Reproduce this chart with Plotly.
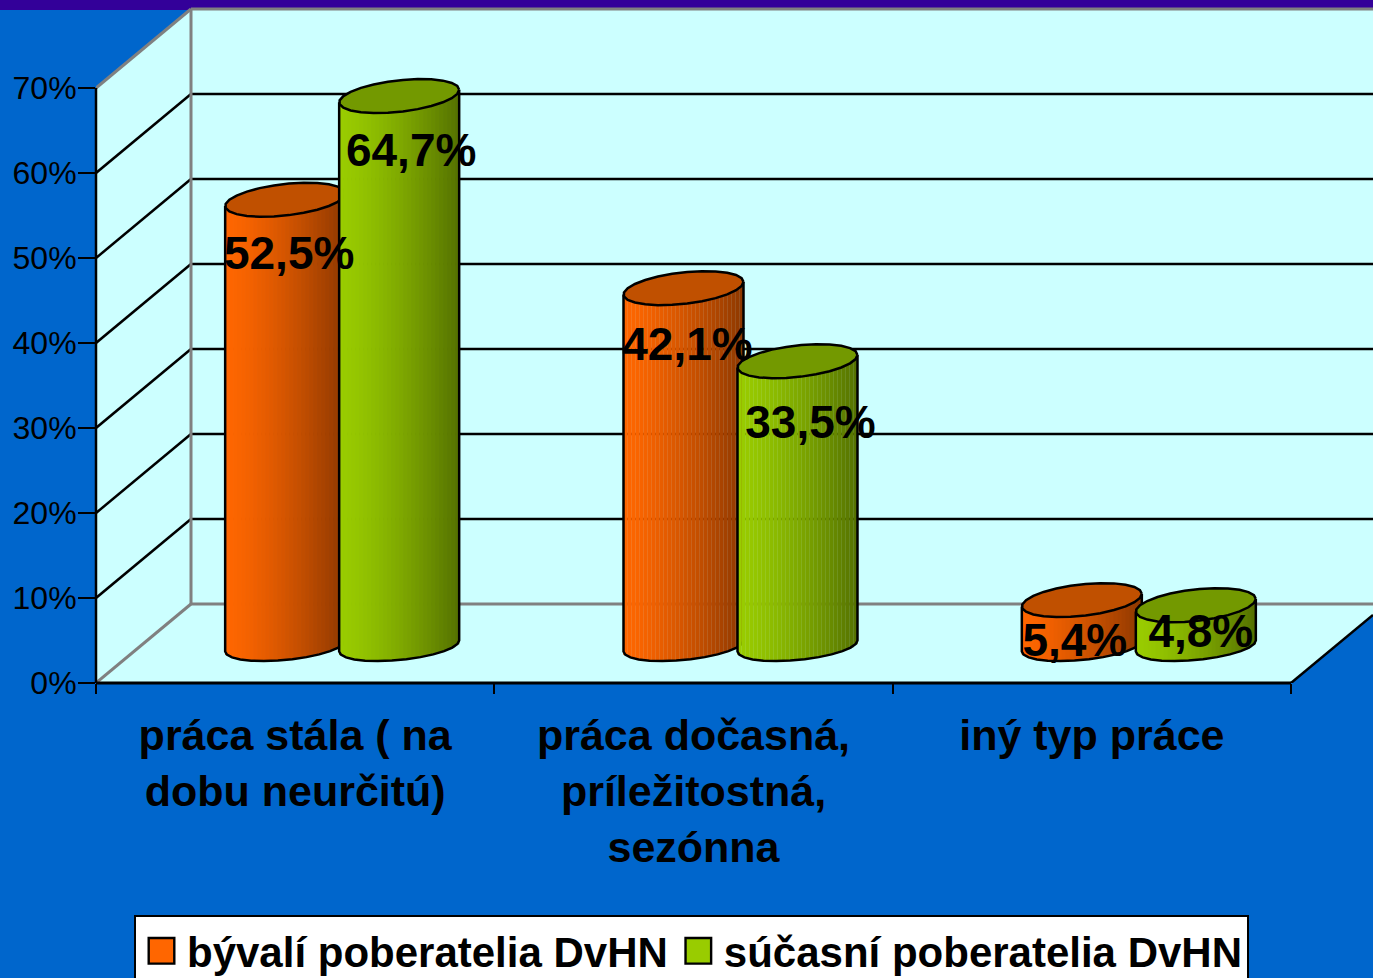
import numpy as np
import plotly.graph_objects as go

categories = ["práca stála ( na<br>dobu neurčitú)", "práca dočasná,<br>príležitostná,<br>sezónna", "iný typ práce"]
former = [52.5, 42.1, 5.4]
current = [64.7, 33.5, 4.8]
series_names = ["bývalí poberatelia DvHN", "súčasní poberatelia DvHN"]
y_ticks = [0, 10, 20, 30, 40, 50, 60, 70]

W, H = 1373, 978
L, B = 96, 683
U = 398.33      # px per category
S = 8.5         # px per percent
px = lambda p: p / U
py = lambda p: p / S
x0 = -0.5
x_right = x0 + (W - L) / U
y_top = B / S
dx, dy = px(95), py(79)
BLUE, CYAN, PURPLE, GREY = "#0066CC", "#CCFFFF", "#330099", "#808080"
BODY = "Liberation Sans"

shapes = []
def line(xa, ya, xb, yb, color="black", width=2.5):
    shapes.append(dict(type="line", x0=xa, y0=ya, x1=xb, y1=yb, layer="below", line=dict(color=color, width=width)))

wall = [(x0, 0), (x0, 70), (x0 + dx, 70 + dy), (x_right, 70 + dy), (x_right, py(68)), (2.5, 0)]
shapes.append(dict(type="path", layer="below", fillcolor=CYAN, line=dict(width=0),
                   path="M" + " L".join(f"{a},{b}" for a, b in wall) + " Z"))
shapes.append(dict(type="rect", layer="below", xref="paper", x0=-L / (W - L), x1=1, y0=py(B - 10), y1=y_top,
                   fillcolor=PURPLE, line=dict(width=0)))
for t in y_ticks[1:-1]:
    line(x0, t, x0 + dx, t + dy)
    line(x0 + dx, t + dy, x_right, t + dy)
line(x0, 0, x0 + dx, dy, GREY, 3)
line(x0 + dx, dy, x_right, dy, GREY, 3)
line(x0, 70, x0 + dx, 70 + dy, GREY, 3)
line(x0 + dx, 70 + dy, x_right, 70 + dy, GREY, 3)
line(x0 + dx, dy, x0 + dx, 70 + dy, GREY, 3)
line(2.5, 0, x_right, py(68), "black", 2.5)
# front edges sit on the plot boundary: paper refs keep them from being clipped in half
shapes.append(dict(type="line", layer="above", xref="paper", x0=0, x1=0, y0=0, y1=70, line=dict(color="black", width=2.5)))
shapes.append(dict(type="line", layer="above", xref="paper", yref="paper", x0=0, x1=(2.5 - x0) / (x_right - x0),
                   y0=0, y1=0, line=dict(color="black", width=3)))

R = px(60)           # cylinder half width
PITCH = px(114)      # distance between the two cylinders
SHIFT = px(47)       # half depth offset
BASE = py(37)        # centre of cylinder base above the floor line
EB, ET = py(15.8), py(6.3)
EB_LOW, ET_LOW = py(14), py(5.5)
N = 30

def shade(rgb, t):
    k = 1 - 0.45 * t ** 1.4
    return "rgb(%d,%d,%d)" % tuple(round(c * k) for c in rgb)

def add_series(fig, values, side, rgb, top_color, xa, ya):
    for i, v in enumerate(values):
        cx = i + SHIFT + side * PITCH / 2
        edges = np.linspace(-1, 1, N + 1)
        mid = (edges[:-1] + edges[1:]) / 2
        low = BASE - EB_LOW * np.sqrt(1 - mid ** 2) + ET_LOW * mid
        fig.add_trace(go.Bar(
            x=cx + mid * R, y=BASE + v + ET * mid - low, base=low, xaxis=xa, yaxis=ya,
            width=2 * R / N * 1.08, showlegend=False, hoverinfo="skip",
            marker=dict(color=[shade(rgb, (m + 1) / 2) for m in mid], line=dict(width=0))))
        th = np.linspace(np.pi, 2 * np.pi, 14)
        ox = cx + R * np.cos(th)
        oy = BASE + EB_LOW * np.sin(th) + ET_LOW * np.cos(th)
        fig.add_trace(go.Scatter(
            x=np.r_[cx - R, ox, cx + R], y=np.r_[BASE + v - ET, oy, BASE + v + ET], xaxis=xa, yaxis=ya,
            mode="lines", line=dict(color="black", width=2.5), showlegend=False, hoverinfo="skip"))
        th = np.linspace(0, 2 * np.pi, 26)
        fig.add_trace(go.Scatter(
            x=cx + R * np.cos(th), y=BASE + v + EB * np.sin(th) + ET * np.cos(th), xaxis=xa, yaxis=ya,
            mode="lines", fill="toself", fillcolor=top_color,
            line=dict(color="black", width=2.5), showlegend=False, hoverinfo="skip"))

fig = go.Figure()
add_series(fig, former, -1, (255, 102, 0), "#C05000", "x", "y")
add_series(fig, current, 1, (153, 204, 0), "#739900", "x2", "y2")

# value labels
label_dx = {0: [4, 12], 1: [4, 13], 2: [-7, 5]}
label_dy = {0: [58, 58], 1: [60, 65], 2: [44, 30]}
for s, vals in enumerate([former, current]):
    fig.add_trace(go.Scatter(
        x=[i + SHIFT + (2 * s - 1) * PITCH / 2 + px(label_dx[i][s]) for i in range(3)],
        y=[BASE + v - py(label_dy[i][s]) for i, v in enumerate(vals)],
        text=[f"{v:.1f}%".replace(".", ",") for v in vals], xaxis="x2", yaxis="y2",
        mode="text", textposition="middle center", showlegend=False, hoverinfo="skip",
        textfont=dict(family=BODY, size=46, color="black", weight="bold")))

# legend entries
for name, col in zip(series_names, ["#FF6600", "#99CC00"]):
    fig.add_trace(go.Scatter(x=[None], y=[None], name=name, mode="markers",
                             marker=dict(symbol="square", size=24, color=col, line=dict(color="black", width=1.5))))

fig.update_layout(
    width=W, height=H, autosize=False,
    margin=dict(l=L, r=0, t=0, b=H - B, pad=0),
    paper_bgcolor=BLUE, plot_bgcolor="rgba(0,0,0,0)",
    barmode="overlay", shapes=shapes, hovermode=False,
    font=dict(family=BODY, color="black"),
    legend=dict(orientation="h", xref="container", yref="container", x=134 / W, xanchor="left",
                y=(H - 915) / H, yanchor="top",
                bgcolor="white", bordercolor="black", borderwidth=2,
                font=dict(family=BODY, size=42, color="black", weight="bold"),
                itemwidth=41, traceorder="normal"),
    xaxis=dict(range=[x0, x_right], tickvals=[0, 1, 2], ticktext=categories, ticks="",
               showgrid=False, zeroline=False, showline=False, ticklabelstandoff=23,
               tickfont=dict(family=BODY, size=43, color="black", weight="bold"),
               minor=dict(tickvals=[-0.5, 0.5, 1.5, 2.5], ticks="outside", ticklen=10, tickcolor="black", tickwidth=2, showgrid=False)),
    yaxis=dict(range=[0, y_top], tickvals=y_ticks, ticktext=[f"{t}%" for t in y_ticks], ticks="outside",
               ticklen=17, tickwidth=2, tickcolor="black", showgrid=False, zeroline=False, showline=False,
               ticklabelstandoff=-5,
               tickfont=dict(family=BODY, size=32, color="black")),
    xaxis2=dict(range=[x0, x_right], overlaying="x", visible=False),
    yaxis2=dict(range=[0, y_top], overlaying="y", visible=False),
)

post = """
document.body.style.margin='0';document.body.style.overflow='hidden';
document.querySelectorAll('.legend .scatterpts').forEach(function(p){
  p.setAttribute('transform',(p.getAttribute('transform')||'')+' scale(1.6)');});
"""
fig.write_html("out.html", post_script=post, config={"displayModeBar": False})
